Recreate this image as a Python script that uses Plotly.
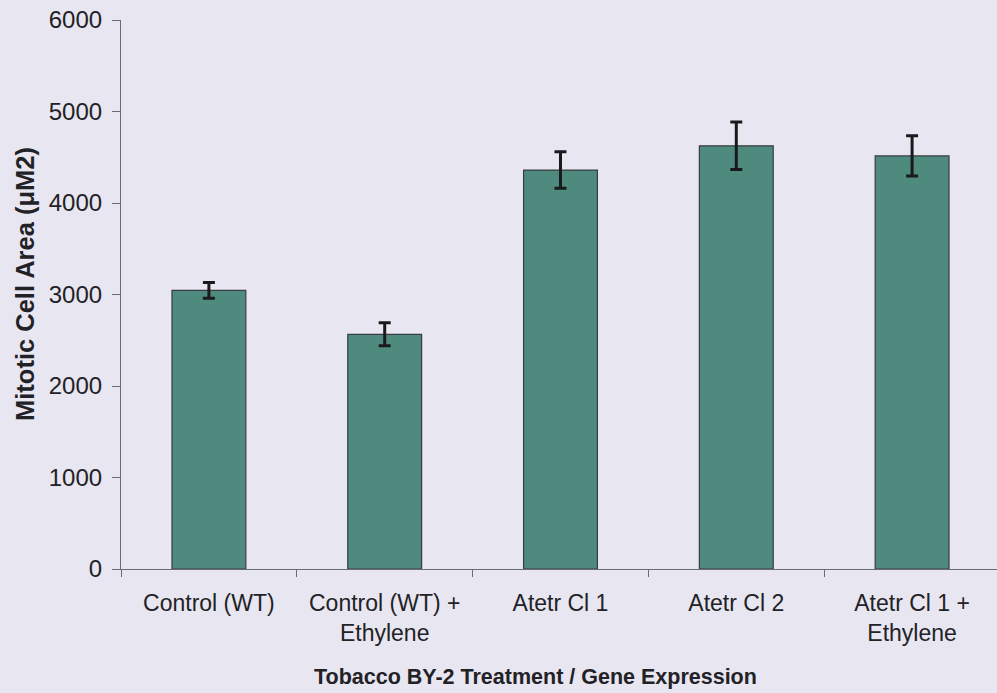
import plotly.graph_objects as go

categories = ["Control (WT)", "Control (WT) +<br>Ethylene", "Atetr Cl 1", "Atetr Cl 2", "Atetr Cl 1 +<br>Ethylene"]
cell_area = [3045, 2565, 4360, 4625, 4515]
cell_area_err = [85, 125, 200, 260, 220]
y_ticks = [0, 1000, 2000, 3000, 4000, 5000, 6000]
x_title = "Tobacco BY-2 Treatment / Gene Expression"
y_title = "Mitotic Cell Area (μM2)"

BG = "#e8e6f0"
BAR = "#4e8a7e"
TXT = "#222226"
AXIS = "#6a6a72"
FONT = "Liberation Sans, Arial, sans-serif"

W, H = 997, 693
ML, MR, MT, MB = 121, 0, 20, 124

fig = go.Figure()
fig.add_trace(go.Bar(
    x=categories,
    y=cell_area,
    marker=dict(color=BAR, line=dict(color="#3a3d40", width=1.2)),
    error_y=dict(type="data", array=cell_area_err, visible=True,
                 color="#1a1a1a", thickness=3, width=6),
    width=0.42,
))

fig.update_layout(
    width=W, height=H,
    paper_bgcolor=BG, plot_bgcolor=BG,
    margin=dict(l=ML, r=MR, t=MT, b=MB, autoexpand=False),
    showlegend=False,
    font=dict(family=FONT, color=TXT, size=22),
    xaxis=dict(
        range=[-0.5, 4.483],
        showline=True, linecolor=AXIS, linewidth=1.2,
        ticks="outside", tickson="boundaries", ticklen=7, tickcolor=AXIS,
        tickfont=dict(size=23, family=FONT, color=TXT),
        ticklabelstandoff=13,
        showgrid=False, zeroline=False,
    ),
    yaxis=dict(
        range=[0, 6000],
        tickvals=y_ticks, ticktext=[str(v) for v in y_ticks],
        showline=True, linecolor=AXIS, linewidth=1.2,
        ticks="outside", ticklen=8, tickcolor=AXIS,
        tickfont=dict(size=24, family=FONT, color=TXT),
        ticklabelstandoff=5,
        showgrid=False, zeroline=False,
    ),
    annotations=[
        dict(text="<b>" + x_title + "</b>", xref="paper", yref="paper",
             x=(535 - ML) / (W - ML - MR), y=-(677 - (H - MB)) / (H - MT - MB),
             xanchor="center", yanchor="middle", showarrow=False,
             font=dict(size=21.5, family=FONT, color=TXT)),
        dict(text="<b>" + y_title + "</b>", xref="paper", yref="paper",
             x=-(ML - 25) / (W - ML - MR), y=((H - MB) - 284) / (H - MT - MB),
             xanchor="center", yanchor="middle", showarrow=False, textangle=-90,
             font=dict(size=25.5, family=FONT, color=TXT)),
    ],
)

fig.write_html("out.html", config={"displayModeBar": False},
               post_script="document.body.style.margin='0';document.body.style.padding='0';")
